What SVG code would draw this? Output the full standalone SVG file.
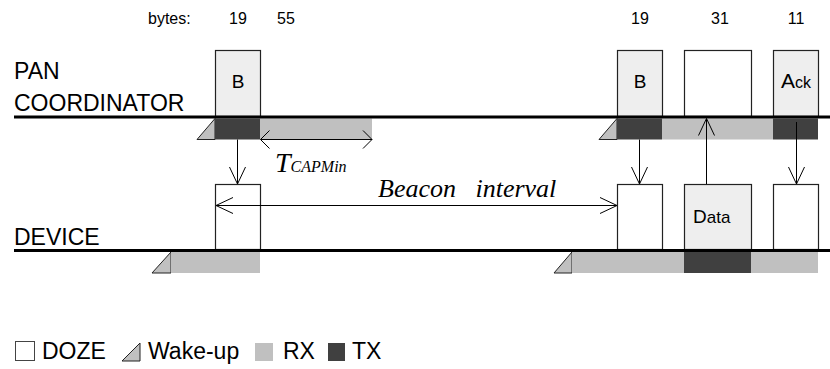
<svg xmlns="http://www.w3.org/2000/svg" width="830" height="369" viewBox="0 0 830 369">
<style>
.lbl{font-family:"Liberation Sans",Arial,sans-serif;fill:#000}
.big{font-size:23px}
.box{stroke:#222;stroke-width:1.2}
.doze{fill:#fff}
.frame{fill:#eeeeee}
.rx{fill:#c0c0c0}
.tx{fill:#404040}
.wake{fill:#c0c0c0;stroke:#222;stroke-width:1}
.axis{stroke:#000;stroke-width:3}
.conn{stroke:#000;stroke-width:1;fill:none}
.it{font-family:"Liberation Serif","Times New Roman",serif;font-style:italic;fill:#000}
</style>
<defs>
<marker id="v" markerUnits="userSpaceOnUse" markerWidth="20" markerHeight="20" viewBox="-18 -10 20 20" refX="0" refY="0" orient="auto-start-reverse">
<path d="M-17,-8 L0,0 L-17,8" fill="none" stroke="#000" stroke-width="1"/>
</marker>
<marker id="w" markerUnits="userSpaceOnUse" markerWidth="20" markerHeight="22" viewBox="-11 -11 13 22" refX="0" refY="0" orient="auto-start-reverse">
<path d="M-9,-9 L0,0 L-9,9" fill="none" stroke="#000" stroke-width="1"/>
</marker>
</defs>
<rect width="830" height="369" fill="#fff"/>

<g id="bytes" class="lbl" font-size="16">
<text x="148" y="24">bytes:</text>
<text x="238" y="24" text-anchor="middle">19</text>
<text x="286" y="24" text-anchor="middle">55</text>
<text x="640" y="24" text-anchor="middle">19</text>
<text x="720" y="24" text-anchor="middle">31</text>
<text x="796" y="24" text-anchor="middle">11</text>
</g>

<g id="labels" class="lbl big">
<text x="14" y="79">PAN</text>
<text x="14" y="111">COORDINATOR</text>
<text x="14" y="245">DEVICE</text>
</g>

<g id="coordinator-activity">
<polygon class="wake" points="197,139.5 215,139.5 215,118.5"/>
<rect class="tx" x="215" y="118.5" width="45" height="21"/>
<rect class="rx" x="260" y="118.5" width="112" height="21"/>
<polygon class="wake" points="599,139.5 617,139.5 617,118.5"/>
<rect class="tx" x="617" y="118.5" width="45" height="21"/>
<rect class="rx" x="662" y="118.5" width="111" height="21"/>
<rect class="tx" x="773" y="118.5" width="45" height="21"/>
</g>

<g id="device-activity">
<polygon class="wake" points="152,273 171,273 171,252"/>
<rect class="rx" x="171" y="252" width="89" height="21"/>
<polygon class="wake" points="554,273 572,273 572,252"/>
<rect class="rx" x="572" y="252" width="112" height="21"/>
<rect class="tx" x="684" y="252" width="67" height="21"/>
<rect class="rx" x="751" y="252" width="67" height="21"/>
</g>

<g id="coord-beacon1">
<rect class="box frame" x="215.5" y="50.5" width="45" height="66"/>
<text class="lbl" x="238" y="88" font-size="19" text-anchor="middle">B</text>
</g>
<g id="coord-beacon2">
<rect class="box frame" x="617.5" y="50.5" width="45" height="66"/>
<text class="lbl" x="640" y="88" font-size="19" text-anchor="middle">B</text>
</g>
<g id="coord-rx">
<rect class="box doze" x="684.5" y="50.5" width="67" height="66"/>
</g>
<g id="coord-ack">
<rect class="box frame" x="773.5" y="50.5" width="45" height="66"/>
<text class="lbl" x="781" y="88"><tspan font-size="21">A</tspan><tspan font-size="16">ck</tspan></text>
</g>

<g id="device-rx1">
<rect class="box doze" x="215.5" y="184.5" width="45" height="65"/>
</g>
<g id="device-rx2">
<rect class="box doze" x="617.5" y="184.5" width="45" height="65"/>
</g>
<g id="device-data">
<rect class="box frame" x="684.5" y="184.5" width="67" height="65"/>
<text class="lbl" x="693" y="223"><tspan font-size="19">D</tspan><tspan font-size="17">ata</tspan></text>
</g>
<g id="device-ackrx">
<rect class="box doze" x="773.5" y="184.5" width="45" height="65"/>
</g>

<g id="axes">
<line class="axis" x1="14" y1="117" x2="830" y2="117"/>
<line class="axis" x1="14" y1="250.5" x2="830" y2="250.5"/>
</g>

<g id="connectors">
<line class="conn" x1="237.5" y1="139.5" x2="237.5" y2="184" marker-end="url(#v)"/>
<line class="conn" x1="639.5" y1="139.5" x2="639.5" y2="184" marker-end="url(#v)"/>
<line class="conn" x1="796.5" y1="122" x2="796.5" y2="184" marker-end="url(#v)"/>
<line class="conn" x1="706.5" y1="184" x2="706.5" y2="118.5" marker-end="url(#v)"/>
<line class="conn" x1="216" y1="205.5" x2="617" y2="205.5" marker-start="url(#v)" marker-end="url(#v)"/>
<line class="conn" x1="260.5" y1="139.5" x2="372" y2="139.5" marker-start="url(#w)" marker-end="url(#w)"/>
</g>

<g id="annotations">
<text class="it" x="275" y="172" font-size="28">T<tspan font-size="16">CAPMin</tspan></text>
<text class="it" x="378" y="197" font-size="26" xml:space="preserve">Beacon   interval</text>
</g>

<g id="legend">
<rect x="15.5" y="341.5" width="19" height="19" fill="#fff" stroke="#444" stroke-width="1"/>
<text class="lbl big" x="42" y="359">DOZE</text>
<polygon class="wake" points="122,361 140,361 140,343"/>
<text class="lbl big" x="148" y="359">Wake-up</text>
<rect class="rx" x="255" y="343" width="18" height="18"/>
<text class="lbl big" x="283" y="359">RX</text>
<rect class="tx" x="328" y="343" width="17" height="18"/>
<text class="lbl big" x="352" y="359">TX</text>
</g>
</svg>
